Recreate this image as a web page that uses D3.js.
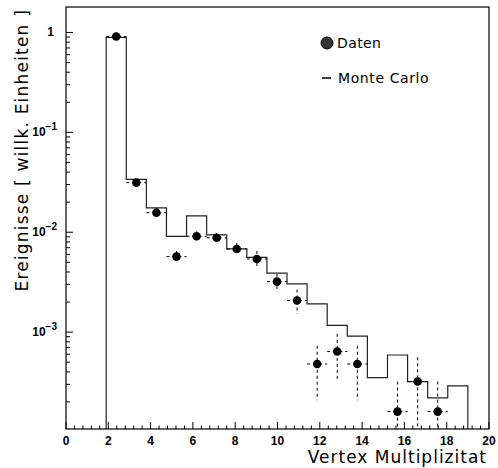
<!DOCTYPE html>
<html>
<head>
<meta charset="utf-8">
<script src="https://cdn.jsdelivr.net/npm/d3@7"></script>
<style>
  body { margin: 0; background: #fff; }
  svg text { font-family: "Liberation Sans", Arial, sans-serif; }
  svg text.title { font-family: "DejaVu Sans", sans-serif; }
</style>
</head>
<body>
<div id="chart"></div>
<script>
// histogram binning (Monte Carlo) : 18 bins of width 0.95 starting at 1.9
const binLow = 1.9;
const binWidth = 0.95;
const mcValues = [0.895, 0.0338, 0.0175, 0.0091, 0.0146, 0.0094, 0.0068, 0.0056, 0.0039,
                  0.00304, 0.00192, 0.00117, 0.00091, 0.00035, 0.00059, 0.00032, 0.00022, 0.00029];

// data points (null = no entry in that bin)
const dataValues = [0.91, 0.0314, 0.0157, 0.0057, 0.0091, 0.0088, 0.0068, 0.0054, 0.0032,
                    0.00207, 0.00048, 0.00064, 0.00048, null, 0.00016, 0.00032, 0.00016, null];
const dataHigh = [0.93, 0.033, 0.0168, 0.0065, 0.0102, 0.0098, 0.0078, 0.0065, 0.00382,
                  0.00267, 0.00073, 0.00096, 0.00073, null, 0.00032, 0.00056, 0.00032, null];
const dataLow = [0.89, 0.030, 0.0147, 0.0050, 0.0081, 0.0079, 0.0059, 0.0045, 0.00251,
                 0.00152, 0.000208, 0.000322, 0.000208, null, 0.00001, 0.00001, 0.00001, null];

const xTicks = [0, 2, 4, 6, 8, 10, 12, 14, 16, 18, 20];
const yTickExps = [0, -1, -2, -3];

const W = 498, H = 468;
const frame = { left: 66, right: 489, top: 7, bottom: 429 };

const svg = d3.select("#chart").append("svg")
  .attr("width", W).attr("height", H);

const x = d3.scaleLinear().domain([0, 20]).range([frame.left, frame.right]);
const y = d3.scaleLog().domain([Math.pow(10, -3.97), Math.pow(10, 0.255)]).range([frame.bottom, frame.top]);

svg.append("defs").append("clipPath").attr("id", "plotClip")
  .append("rect")
  .attr("x", frame.left).attr("y", frame.top)
  .attr("width", frame.right - frame.left).attr("height", frame.bottom - frame.top);

// frame
svg.append("rect")
  .attr("x", frame.left).attr("y", frame.top)
  .attr("width", frame.right - frame.left).attr("height", frame.bottom - frame.top)
  .attr("fill", "none").attr("stroke", "#000").attr("stroke-width", 1.2);

//////////////// x axis ticks ////////////////
const xMinor = d3.range(0, 20.001, 0.4);
svg.append("g").selectAll("line")
  .data(xMinor)
  .enter().append("line")
  .attr("x1", d => x(d)).attr("x2", d => x(d))
  .attr("y1", frame.bottom)
  .attr("y2", d => Math.abs(d / 2 - Math.round(d / 2)) < 1e-6 ? frame.bottom - 7 : frame.bottom - 3.5)
  .attr("stroke", "#000").attr("stroke-width", 1);

svg.append("g").selectAll("text")
  .data(xTicks)
  .enter().append("text")
  .attr("x", d => x(d))
  .attr("y", 445)
  .attr("text-anchor", "middle")
  .style("font-size", "12px")
  .style("font-weight", "bold")
  .text(d => d);

//////////////// y axis ticks ////////////////
const yMinor = [];
for (let e = -4; e <= 0; e++) {
  for (let m = 1; m <= 9; m++) {
    const v = m * Math.pow(10, e);
    if (v >= y.domain()[0] && v <= y.domain()[1]) yMinor.push({ v: v, major: m === 1 });
  }
}
svg.append("g").selectAll("line")
  .data(yMinor)
  .enter().append("line")
  .attr("x1", frame.left)
  .attr("x2", d => frame.left + (d.major ? 7 : 4))
  .attr("y1", d => y(d.v)).attr("y2", d => y(d.v))
  .attr("stroke", "#000").attr("stroke-width", 1);

const yLab = svg.append("g").selectAll("text")
  .data(yTickExps)
  .enter().append("text")
  .attr("x", d => d === 0 ? 54 : 57)
  .attr("y", d => y(Math.pow(10, d)) + 4)
  .attr("text-anchor", "end")
  .style("font-size", "12px")
  .style("font-weight", "bold");
yLab.filter(d => d === 0).text("1");
yLab.filter(d => d !== 0).each(function(d) {
  const t = d3.select(this);
  t.append("tspan").text("10");
  t.append("tspan").attr("dy", -6).style("font-size", "10px").text("\u2212" + Math.abs(d));
});

//////////////// titles ////////////////
svg.append("text")
  .attr("class", "title")
  .attr("x", 487).attr("y", 463)
  .attr("text-anchor", "end")
  .style("font-size", "17px")
  .style("letter-spacing", "1px")
  .text("Vertex Multiplizitat");

svg.append("text")
  .attr("class", "title")
  .attr("transform", "translate(28,9) rotate(-90)")
  .attr("text-anchor", "end")
  .style("font-size", "17px")
  .style("letter-spacing", "1.2px")
  .text("Ereignisse [ willk. Einheiten ]");

//////////////// Monte Carlo histogram ////////////////
let pathD = "M" + x(binLow) + "," + frame.bottom;
mcValues.forEach((v, i) => {
  pathD += " V" + y(v) + " H" + x(binLow + (i + 1) * binWidth);
});
pathD += " V" + frame.bottom;

const plot = svg.append("g").attr("clip-path", "url(#plotClip)");
plot.append("path")
  .attr("d", pathD)
  .attr("fill", "none")
  .attr("stroke", "#222")
  .attr("stroke-width", 1.2);

//////////////// data points ////////////////
const pts = dataValues.map((v, i) => ({
  cx: binLow + (i + 0.5) * binWidth, v: v, hi: dataHigh[i], lo: dataLow[i]
})).filter(d => d.v !== null);

plot.selectAll(".xerr")
  .data(pts)
  .enter().append("line")
  .attr("x1", d => x(d.cx - binWidth / 2)).attr("x2", d => x(d.cx + binWidth / 2))
  .attr("y1", d => y(d.v)).attr("y2", d => y(d.v))
  .attr("stroke", "#000").attr("stroke-width", 1)
  .attr("stroke-dasharray", "3,3");

plot.selectAll(".yerr")
  .data(pts)
  .enter().append("line")
  .attr("x1", d => x(d.cx)).attr("x2", d => x(d.cx))
  .attr("y1", d => y(d.hi)).attr("y2", d => y(d.lo))
  .attr("stroke", "#000").attr("stroke-width", 1)
  .attr("stroke-dasharray", "3,3");

plot.selectAll(".dot")
  .data(pts)
  .enter().append("circle")
  .attr("cx", d => x(d.cx)).attr("cy", d => y(d.v))
  .attr("r", 4.3)
  .attr("fill", "#000");

//////////////// legend ////////////////
svg.append("circle")
  .attr("cx", 327).attr("cy", 43).attr("r", 6)
  .attr("fill", "#333").attr("stroke", "#000").attr("stroke-width", 1);
svg.append("text")
  .attr("class", "title")
  .attr("x", 337).attr("y", 48)
  .style("font-size", "14px")
  .style("letter-spacing", "0.4px")
  .text("Daten");
svg.append("line")
  .attr("x1", 322).attr("x2", 331).attr("y1", 78).attr("y2", 78)
  .attr("stroke", "#000").attr("stroke-width", 1.5);
svg.append("text")
  .attr("class", "title")
  .attr("x", 338).attr("y", 83)
  .style("font-size", "14px")
  .style("letter-spacing", "0.6px")
  .text("Monte Carlo");
</script>
</body>
</html>
